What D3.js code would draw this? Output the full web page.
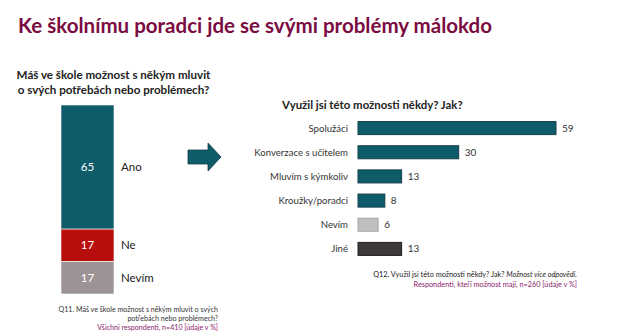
<!DOCTYPE html>
<html><head><meta charset="utf-8">
<script src="https://cdn.jsdelivr.net/npm/d3@7"></script>
<style>body{margin:0;background:#fff;}svg{display:block;font-family:Lato,"Open Sans",sans-serif;}</style>
</head><body>
<svg id="c" width="630" height="335"></svg>
<script>
const stackCats = ["Ano", "Ne", "Nevím"];
const stackVals = [65, 17, 17];
const stackColors = ["#0E5B6A", "#B80E0E", "#9C9394"];

const barCats = ["Spolužáci", "Konverzace s učitelem", "Mluvím s kýmkoliv", "Kroužky/poradci", "Nevím", "Jiné"];
const barVals = [59, 30, 13, 8, 6, 13];
const barColors = ["#0E5B6A", "#0E5B6A", "#0E5B6A", "#0E5B6A", "#BFBFBF", "#3D383A"];
const barStroke = ["#16404A", "#16404A", "#16404A", "#16404A", "#A8A8A8", "#222"];

const svg = d3.select("#c");
const purple = "#7B0C42";

svg.append("text").attr("x", 18).attr("y", 33).attr("fill", purple)
  .attr("font-size", 21.5).attr("font-weight", 700)
  .attr("textLength", 474).attr("lengthAdjust", "spacingAndGlyphs")
  .text("Ke školnímu poradci jde se svými problémy málokdo");

// Left question
const lq = ["Máš ve škole možnost s někým mluvit", "o svých potřebách nebo problémech?"];
svg.append("g").selectAll("text").data(lq).join("text")
  .attr("x", 113.5).attr("y", (d, i) => 79 + i * 14.5).attr("text-anchor", "middle")
  .attr("font-size", 11.6).attr("font-weight", 700).attr("fill", "#222").text(d => d);

// Stacked bar
const total = d3.sum(stackVals);
const ys = d3.scaleLinear().domain([0, total]).range([105, 294]);
let cum = 0;
const stack = stackVals.map((v, i) => { const o = { cat: stackCats[i], v, y0: cum, y1: cum + v, c: stackColors[i] }; cum += v; return o; });
const sg = svg.append("g");
sg.selectAll("rect").data(stack).join("rect")
  .attr("x", 61).attr("width", 53)
  .attr("y", d => ys(d.y0)).attr("height", d => ys(d.y1) - ys(d.y0))
  .attr("fill", d => d.c).attr("stroke", "#fff").attr("stroke-width", 0.6);
sg.selectAll("text.v").data(stack).join("text").attr("class", "v")
  .attr("x", 87.5).attr("y", d => (ys(d.y0) + ys(d.y1)) / 2 + 4).attr("text-anchor", "middle")
  .attr("font-size", 11.5).attr("fill", "#fff").text(d => d.v);
sg.selectAll("text.c").data(stack).join("text").attr("class", "c")
  .attr("x", 121).attr("y", d => (ys(d.y0) + ys(d.y1)) / 2 + 4)
  .attr("font-size", 11.5).attr("fill", "#222").text(d => d.cat);

// footnote left
const lf = ["Q11. Máš ve škole možnost s někým mluvit o svých", "potřebách nebo problémech?"];
svg.append("g").selectAll("text").data(lf).join("text")
  .attr("x", 218).attr("y", (d, i) => 312 + i * 9).attr("text-anchor", "end")
  .attr("font-size", 7.1).attr("fill", "#333").text(d => d);
svg.append("text").attr("x", 218).attr("y", 330).attr("text-anchor", "end")
  .attr("font-size", 7.1).attr("fill", "#8B1A6B").text("Všichni respondenti, n=410 [údaje v %]");

// Arrow
svg.append("path").attr("d", "M188,150 L208,150 L208,143 L221,157 L208,171 L208,164 L188,164 Z")
  .attr("fill", "#0E5B6A").attr("stroke", "#16404A").attr("stroke-width", 0.8);

// Right chart
svg.append("text").attr("x", 282).attr("y", 109).attr("font-size", 11.4).attr("font-weight", 700)
  .attr("fill", "#222").text("Využil jsi této možnosti někdy? Jak?");
const x = d3.scaleLinear().domain([0, 59]).range([358, 556]);
const y = d3.scaleBand().domain(barCats).range([116, 261]).paddingInner(0.46).paddingOuter(0.23);
const rg = svg.append("g");
rg.selectAll("rect").data(barCats).join("rect")
  .attr("x", x(0)).attr("y", d => y(d)).attr("height", y.bandwidth())
  .attr("width", (d, i) => x(barVals[i]) - x(0))
  .attr("fill", (d, i) => barColors[i]).attr("stroke", (d, i) => barStroke[i]).attr("stroke-width", 1);
rg.selectAll("text.c").data(barCats).join("text").attr("class", "c")
  .attr("x", 348).attr("y", d => y(d) + y.bandwidth() / 2 + 3.5).attr("text-anchor", "end")
  .attr("font-size", 9.6).attr("fill", "#333").text(d => d);
rg.selectAll("text.v").data(barCats).join("text").attr("class", "v")
  .attr("x", (d, i) => x(barVals[i]) + 6).attr("y", d => y(d) + y.bandwidth() / 2 + 3.5)
  .attr("font-size", 10).attr("fill", "#333").text((d, i) => barVals[i]);

// footnote right
const rf = svg.append("text").attr("x", 577).attr("y", 277).attr("text-anchor", "end")
  .attr("font-size", 7.3).attr("fill", "#222");
rf.append("tspan").text("Q12. Využil jsi této možnosti někdy? Jak? ");
rf.append("tspan").attr("font-style", "italic").text("Možnost více odpovědí.");
svg.append("text").attr("x", 577).attr("y", 287).attr("text-anchor", "end")
  .attr("font-size", 7.3).attr("fill", "#8B1A6B").text("Respondenti, kteří možnost mají, n=260 [údaje v %]");
</script>
</body></html>
